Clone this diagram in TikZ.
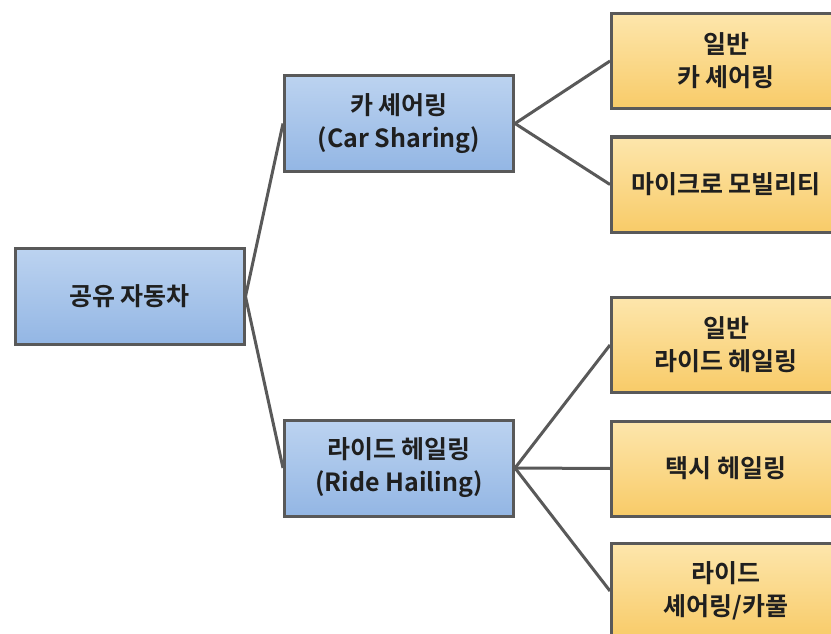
\documentclass[tikz,border=0pt]{standalone}
\usepackage{fontspec}
\setmainfont{Noto Sans CJK KR}[UprightFont={* Bold},BoldFont={* Black}]
\usetikzlibrary{positioning}
\definecolor{edgegray}{HTML}{595959}
\definecolor{bluetop}{HTML}{BCD3F0}
\definecolor{bluebot}{HTML}{93B6E4}
\definecolor{yeltop}{HTML}{FDE6AC}
\definecolor{yelbot}{HTML}{F8CB68}
\tikzset{
  box/.style={draw=edgegray, line width=3pt, rectangle, align=center,
    font=\fontsize{25}{33}\selectfont, text=black!88},
  bluebox/.style={box, top color=bluetop, bottom color=bluebot,
    minimum width=229pt, minimum height=96pt},
  yelbox/.style={box, top color=yeltop, bottom color=yelbot,
    minimum width=229pt, minimum height=95pt},
  conn/.style={draw=edgegray, line width=3pt}
}
\begin{document}
\begin{tikzpicture}[x=1pt,y=-1pt]
\useasboundingbox (0,0) rectangle (831,634);
\clip (0,0) rectangle (831,634);
\node[bluebox] (root) at (129.5,296.5) {공유 자동차};
\node[bluebox] (car) at (399,123.5) {카 셰어링\\(Car Sharing)};
\node[bluebox] (ride) at (399,468) {라이드 헤일링\\(Ride Hailing)};
\node[yelbox] (c1) at (726,61) {일반\\카 셰어링};
\node[yelbox] (c2) at (726,184.5) {마이크로 모빌리티};
\node[yelbox] (r1) at (726,345) {일반\\라이드 헤일링};
\node[yelbox] (r2) at (726,468.5) {택시 헤일링};
\node[yelbox] (r3) at (726,591) {라이드\\셰어링/카풀};
\draw[conn] (root.east) -- (car.west);
\draw[conn] (root.east) -- (ride.west);
\draw[conn] (car.east) -- (c1.west);
\draw[conn] (car.east) -- (c2.west);
\draw[conn] (ride.east) -- (r1.west);
\draw[conn] (ride.east) -- (r2.west);
\draw[conn] (ride.east) -- (r3.west);
\end{tikzpicture}
\end{document}
